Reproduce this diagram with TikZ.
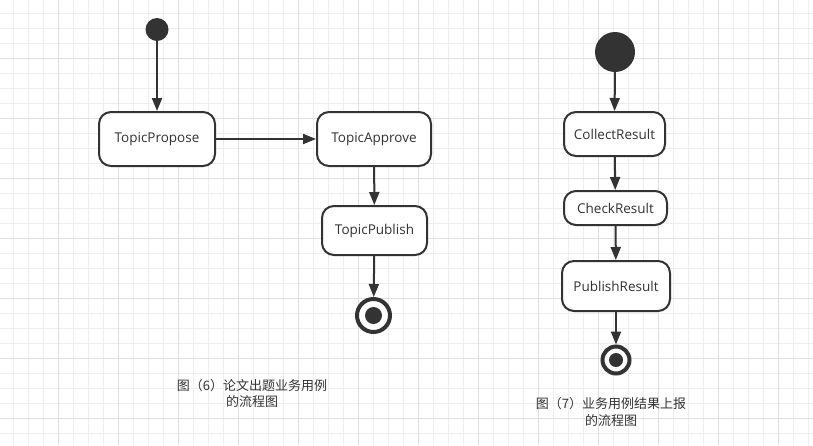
\documentclass[tikz,border=0pt]{standalone}
\usepackage{fontspec}
\setmainfont{Open Sans}
\newfontfamily\cjkfont{Noto Sans CJK SC}
\usetikzlibrary{arrows.meta}
\definecolor{ink}{HTML}{333333}
\definecolor{gridminor}{HTML}{EEEEEE}
\definecolor{gridmajor}{HTML}{E0E0E0}
\tikzset{
  statebox/.style={draw=ink, line width=2pt, fill=white, rounded corners=12pt,
    inner sep=0pt, text=ink, font=\fontsize{13.5}{15}\selectfont},
  initdot/.style={circle, fill=ink, draw=none, inner sep=0pt},
  endring/.style={circle, draw=ink, line width=4pt, fill=white, inner sep=0pt},
  enddot/.style={circle, fill=ink, draw=none, inner sep=0pt},
  flow/.style={draw=ink, line width=2pt, -{Triangle[length=13pt,width=10pt]}},
  caption/.style={align=center, text=ink, font=\cjkfont\fontsize{13}{16.5}\selectfont, inner sep=0pt}
}
\begin{document}
\begin{tikzpicture}[x=1pt,y=-1pt]
\useasboundingbox (0,0) rectangle (813,445);
\fill[white] (0,0) rectangle (813,445);
% grid
\foreach \k in {0,...,53} {\draw[gridminor, line width=0.8pt] ({13+15*\k},0) -- ({13+15*\k},445);}
\foreach \k in {0,...,29} {\draw[gridminor, line width=0.8pt] (0,{13+15*\k}) -- (813,{13+15*\k});}
\foreach \k in {0,...,13} {\draw[gridmajor, line width=0.8pt] ({-2+60*\k},0) -- ({-2+60*\k},445);}
\foreach \k in {0,...,7} {\draw[gridmajor, line width=0.8pt] (0,{-2+60*\k}) -- (813,{-2+60*\k});}

% left diagram
\node[initdot, minimum size=23pt] (i1) at (157,29.5) {};
\node[statebox, minimum width=116pt, minimum height=54pt] (pp) at (157,139) {TopicPropose};
\node[statebox, minimum width=114pt, minimum height=54pt] (ta) at (374,139) {TopicApprove};
\node[statebox, minimum width=105pt, minimum height=49pt] (tp) at (374.5,230.5) {TopicPublish};
\node[endring, minimum size=33pt] (e1) at (373.5,315.5) {};
\node[enddot, minimum size=17pt] (e1d) at (e1.center) {};

\draw[flow] (i1) -- (pp);
\draw[flow] (pp) -- (ta);
\draw[flow] (ta) -- (tp);
\draw[flow] (tp) -- (e1);

% right diagram
\node[initdot, minimum size=40pt] (i2) at (615,52) {};
\node[statebox, minimum width=101pt, minimum height=44pt] (cr) at (614.5,134) {CollectResult};
\node[statebox, minimum width=103pt, minimum height=34pt] (ck) at (615.5,208) {CheckResult};
\node[statebox, minimum width=108pt, minimum height=50pt] (pr) at (616,286) {PublishResult};
\node[endring, minimum size=27pt] (e2) at (616,360) {};
\node[enddot, minimum size=14pt] (e2d) at (e2.center) {};

\draw[flow] (i2) -- (cr);
\draw[flow] (cr) -- (ck);
\draw[flow] (ck) -- (pr);
\draw[flow] (pr) -- (e2);

% captions
\node[caption] (c1) at (252,393.5) {图（6）论文出题业务用例\\的流程图};
\node[caption] (c2) at (611,412) {图（7）业务用例结果上报\\的流程图};
\end{tikzpicture}
\end{document}
